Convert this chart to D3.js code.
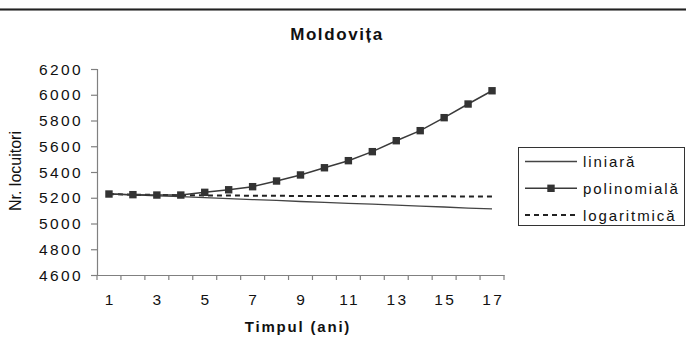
<!DOCTYPE html>
<html>
<head>
<meta charset="utf-8">
<script src="https://cdn.jsdelivr.net/npm/d3@7"></script>
<style>
  html, body { margin: 0; padding: 0; background: #fff; }
  svg { display: block; font-family: "Liberation Sans", Arial, sans-serif; }
</style>
</head>
<body>
<svg id="chart" width="686" height="364"></svg>
<script>
// Years since start of observation
const years = [1, 2, 3, 4, 5, 6, 7, 8, 9, 10, 11, 12, 13, 14, 15, 16, 17];
const xTickLabels = [1, 3, 5, 7, 9, 11, 13, 15, 17];
const yTicks = [4600, 4800, 5000, 5200, 5400, 5600, 5800, 6000, 6200];

// Population forecasts (number of inhabitants) by trend model
const liniara = [5230, 5223, 5215, 5208, 5201, 5193, 5186, 5179, 5171, 5164, 5157, 5150, 5142, 5135, 5128, 5120, 5113];
const polinomiala = [5229, 5224, 5221, 5221, 5242, 5262, 5286, 5330, 5377, 5433, 5488, 5558, 5643, 5721, 5822, 5928, 6031];
const logaritmica = [5229, 5224, 5222, 5220, 5218, 5217, 5216, 5215, 5214, 5213, 5213, 5212, 5212, 5211, 5211, 5210, 5210];

const seriesNames = ["liniară", "polinomială", "logaritmică"];

const svg = d3.select("#chart");

// Rule across the top of the page
svg.append("rect").attr("x", 0).attr("y", 8).attr("width", 686).attr("height", 3).attr("fill", "#b0b0b0");
svg.append("rect").attr("x", 0).attr("y", 8.7).attr("width", 686).attr("height", 1.6).attr("fill", "#222");

const x = d3.scaleBand().domain(years).range([97, 504]).padding(0);
const y = d3.scaleLinear().domain([4600, 6200]).range([275, 69]);
const cx = d => x(d) + x.bandwidth() / 2;

const axisColor = "#808080";
const textColor = "#111";

// Y axis
const yAxis = svg.append("g")
  .attr("transform", "translate(97,0)")
  .call(d3.axisLeft(y).tickValues(yTicks).tickSize(6).tickPadding(0).tickFormat(d3.format("d")));
yAxis.select(".domain").attr("stroke", axisColor).attr("stroke-width", 1.2);
yAxis.selectAll(".tick line").attr("stroke", axisColor).attr("stroke-width", 1.2);
yAxis.selectAll(".tick text")
  .attr("x", -14)
  .attr("dy", "0.62em")
  .attr("y", -4.5)
  .attr("fill", textColor)
  .style("font-size", "15.5px")
  .style("letter-spacing", "2.4px");

// X axis: labels on every other category, ticks on category boundaries
const xAxis = svg.append("g")
  .attr("transform", "translate(0,275)")
  .call(d3.axisBottom(x).tickValues(xTickLabels).tickSize(0).tickPadding(19));
xAxis.select(".domain").attr("stroke", axisColor).attr("stroke-width", 1.2);
xAxis.selectAll(".tick text")
  .attr("dx", "1.2px")
  .attr("fill", textColor)
  .style("font-size", "15.5px")
  .style("letter-spacing", "2.4px");
const boundaries = years.map(d => x(d)).concat([x.range()[1]]);
xAxis.selectAll(".bound")
  .data(boundaries)
  .join("line")
  .attr("class", "bound")
  .attr("x1", d => d).attr("x2", d => d)
  .attr("y1", 0).attr("y2", 5)
  .attr("stroke", axisColor).attr("stroke-width", 1.2);

// Titles
svg.append("text")
  .attr("x", 337).attr("y", 40)
  .attr("text-anchor", "middle")
  .attr("fill", textColor)
  .style("font-size", "17px").style("font-weight", "bold").style("letter-spacing", "1.6px")
  .text("Moldovița");

svg.append("text")
  .attr("x", 298).attr("y", 332)
  .attr("text-anchor", "middle")
  .attr("fill", textColor)
  .style("font-size", "15px").style("font-weight", "bold").style("letter-spacing", "1.8px")
  .text("Timpul (ani)");

svg.append("text")
  .attr("transform", "translate(21,171) rotate(-90)")
  .attr("text-anchor", "middle")
  .attr("fill", textColor)
  .style("font-size", "16px")
  .text("Nr. locuitori");

// Series lines
const line = d3.line().x((d, i) => cx(years[i])).y(d => y(d));

svg.append("path").datum(liniara)
  .attr("d", line).attr("fill", "none")
  .attr("stroke", "#444").attr("stroke-width", 1.3);

svg.append("path").datum(logaritmica)
  .attr("d", line).attr("fill", "none")
  .attr("stroke", "#222").attr("stroke-width", 2).attr("stroke-dasharray", "5,4");

svg.append("path").datum(polinomiala)
  .attr("d", line).attr("fill", "none")
  .attr("stroke", "#3a3a3a").attr("stroke-width", 1.5);

const ms = 7.4;
svg.selectAll(".marker")
  .data(polinomiala)
  .join("rect")
  .attr("class", "marker")
  .attr("x", (d, i) => cx(years[i]) - ms / 2)
  .attr("y", d => y(d) - ms / 2)
  .attr("width", ms).attr("height", ms)
  .attr("fill", "#333");

// Legend
const lg = svg.append("g");
lg.append("rect")
  .attr("x", 518.5).attr("y", 147.5).attr("width", 166).attr("height", 78)
  .attr("fill", "#fff").attr("stroke", "#333").attr("stroke-width", 1);
const rowsY = [161.5, 188.3, 215];
seriesNames.forEach((name, i) => {
  const yy = rowsY[i];
  const l = lg.append("line")
    .attr("x1", 525).attr("x2", 577).attr("y1", yy).attr("y2", yy);
  if (i === 0) l.attr("stroke", "#444").attr("stroke-width", 1.3);
  if (i === 1) {
    l.attr("stroke", "#3a3a3a").attr("stroke-width", 1.5);
    lg.append("rect").attr("x", 551 - ms / 2).attr("y", yy - ms / 2)
      .attr("width", ms).attr("height", ms).attr("fill", "#333");
  }
  if (i === 2) l.attr("stroke", "#222").attr("stroke-width", 2).attr("stroke-dasharray", "5,4");
  lg.append("text")
    .attr("x", 583).attr("y", yy + 5.5)
    .attr("fill", textColor)
    .style("font-size", "15px").style("letter-spacing", "1.9px")
    .text(name);
});
</script>
</body>
</html>
